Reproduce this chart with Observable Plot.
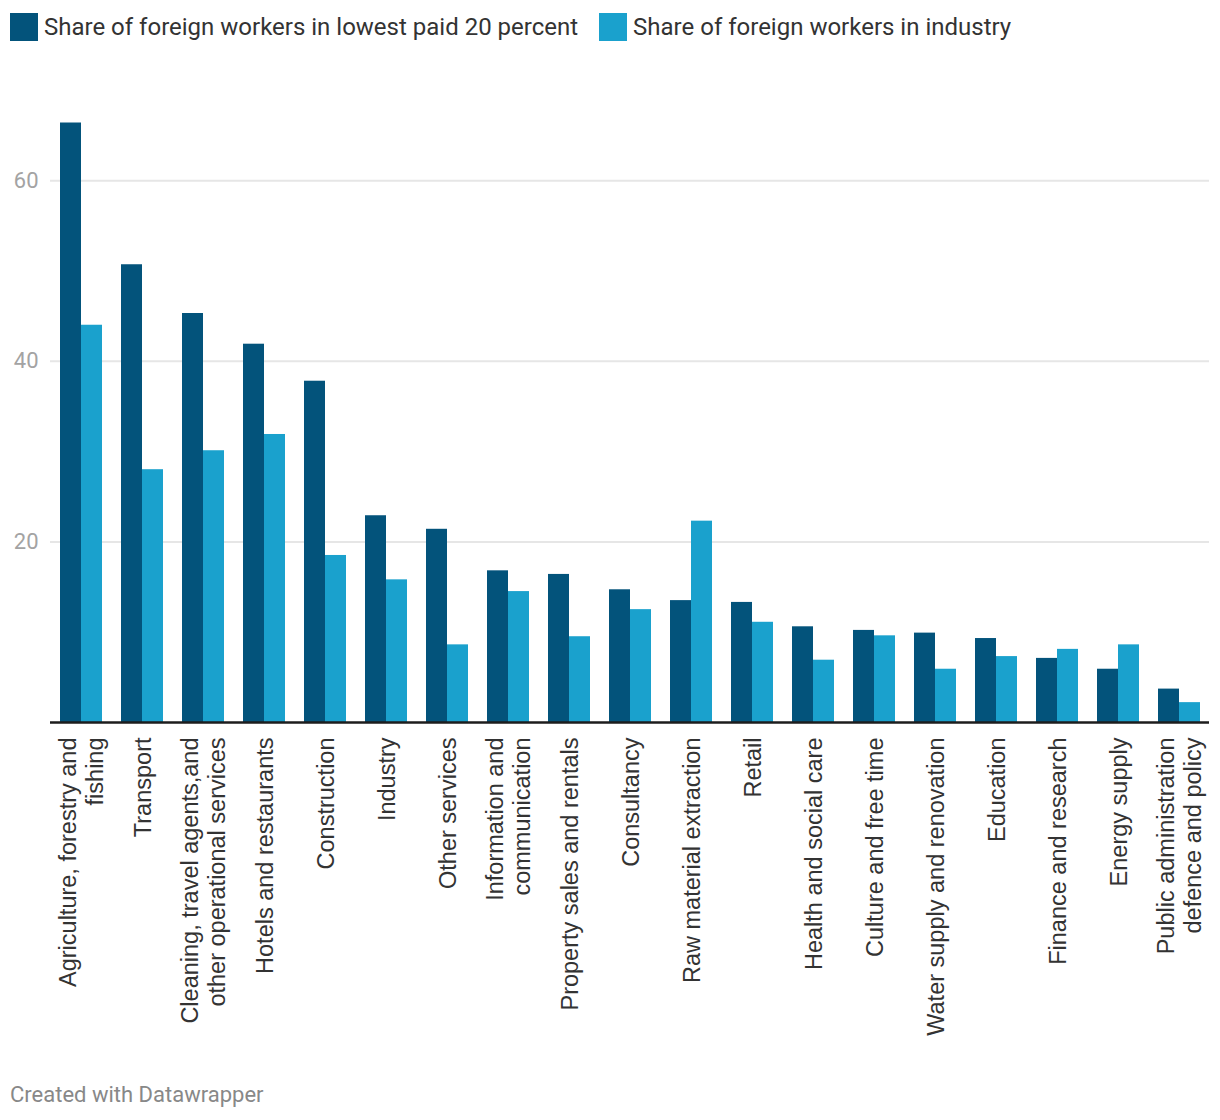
<!DOCTYPE html>
<html>
<head>
<meta charset="utf-8">
<script src="https://cdn.jsdelivr.net/npm/d3@7"></script>
<script src="https://cdn.jsdelivr.net/npm/@observablehq/plot@0.6"></script>
<style>
  body { margin: 0; background: #fff; font-family: Roboto, sans-serif; width: 1220px; }
  .legend { display: flex; align-items: center; height: 54px; padding: 0 10px; box-sizing: border-box; }
  .item { display: flex; align-items: center; margin-right: 21px; font-size: 24px; color: #333; }
  .sw { width: 28px; height: 28px; margin-right: 6px; }
  .footer { font-size: 22px; color: #888; padding-left: 10px; padding-top: 13px; line-height: 24px; }
  #chart svg { display: block; }
</style>
</head>
<body>
<div class="legend" id="legend"></div>
<div id="chart"></div>
<div class="footer">Created with Datawrapper</div>
<script>
const categories = [
  "Agriculture, forestry and fishing", "Transport",
  "Cleaning, travel agents,and other operational services",
  "Hotels and restaurants", "Construction", "Industry", "Other services",
  "Information and communication", "Property sales and rentals", "Consultancy",
  "Raw material extraction", "Retail", "Health and social care",
  "Culture and free time", "Water supply and renovation", "Education",
  "Finance and research", "Energy supply", "Public administration defence and policy"
];
const tickLabels = [
  "Agriculture, forestry and\nfishing", "Transport",
  "Cleaning, travel agents,and\nother operational services",
  "Hotels and restaurants", "Construction", "Industry", "Other services",
  "Information and\ncommunication", "Property sales and rentals", "Consultancy",
  "Raw material extraction", "Retail", "Health and social care",
  "Culture and free time", "Water supply and renovation", "Education",
  "Finance and research", "Energy supply", "Public administration\ndefence and policy"
];
const lowestPaid = [66.4, 50.7, 45.3, 41.9, 37.8, 22.9, 21.4, 16.8, 16.4, 14.7, 13.5, 13.3, 10.6, 10.2, 9.9, 9.3, 7.1, 5.9, 3.7];
const inIndustry = [44.0, 28.0, 30.1, 31.9, 18.5, 15.8, 8.6, 14.5, 9.5, 12.5, 22.3, 11.1, 6.9, 9.6, 5.9, 7.3, 8.1, 8.6, 2.2];
const seriesNames = ["Share of foreign workers in lowest paid 20 percent", "Share of foreign workers in industry"];
const seriesColors = ["#03537b", "#1aa1cd"];
const yTicks = [20, 40, 60];

const data = categories.flatMap((c, i) => [
  {cat: c, series: seriesNames[0], value: lowestPaid[i]},
  {cat: c, series: seriesNames[1], value: inIndustry[i]}
]);

const legend = document.getElementById("legend");
seriesNames.forEach((s, i) => {
  const it = document.createElement("div");
  it.className = "item";
  const sw = document.createElement("div");
  sw.className = "sw";
  sw.style.background = seriesColors[i];
  const t = document.createElement("span");
  t.textContent = s;
  it.appendChild(sw); it.appendChild(t);
  legend.appendChild(it);
});

const chart = Plot.plot({
  width: 1220,
  height: 1016,
  marginTop: 36,
  marginBottom: 348,
  marginLeft: 49,
  marginRight: 10,
  style: {fontFamily: "Roboto, sans-serif", background: "white", overflow: "visible"},
  fx: {domain: categories, padding: 0, label: null, axis: null},
  x: {domain: seriesNames, paddingInner: 0, paddingOuter: 0.45, axis: null},
  y: {domain: [0, 70], axis: null},
  color: {domain: seriesNames, range: seriesColors},
  marks: [
    Plot.gridY(yTicks, {stroke: "#e6e6e6", strokeOpacity: 1, strokeWidth: 2}),
    Plot.axisY(yTicks, {tickSize: 0, tickPadding: 12, fontSize: 22, fill: "#a3a3a3", label: null}),
    Plot.barY(data, {fx: "cat", x: "series", y: "value", fill: "series"}),
    Plot.ruleY([0], {stroke: "#1d1d1d", strokeWidth: 2.5}),
    Plot.axisFx({
      anchor: "bottom", tickRotate: -90, tickSize: 0, tickPadding: 15, fontSize: 23.5,
      fontFamily: "'Liberation Sans', Arial, sans-serif",
      fill: "#333", textAnchor: "end", lineAnchor: "middle", lineHeight: 1.15, label: null,
      tickFormat: c => tickLabels[categories.indexOf(c)]
    })
  ]
});
document.getElementById("chart").appendChild(chart);
</script>
</body>
</html>
